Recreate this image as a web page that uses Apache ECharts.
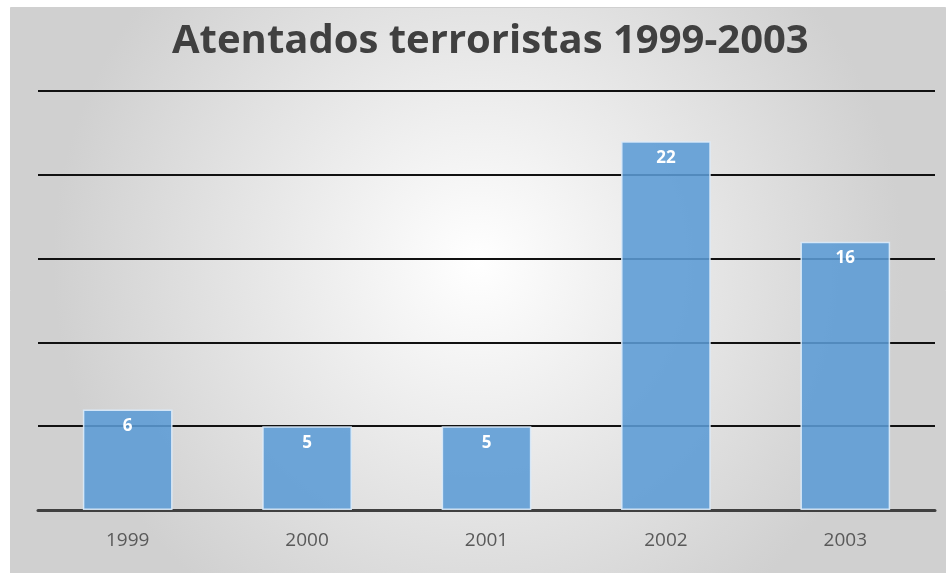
<!DOCTYPE html>
<html>
<head>
<meta charset="utf-8">
<script src="https://cdn.jsdelivr.net/npm/echarts@6/dist/echarts.min.js"></script>
<style>
  html, body { margin: 0; padding: 0; background: #fff; }
  #chart { width: 948px; height: 573px; }
</style>
</head>
<body>
<div id="chart"></div>
<script>
// 数据
const years = ['1999', '2000', '2001', '2002', '2003'];
const attacks = [6, 5, 5, 22, 16];

const chart = echarts.init(document.getElementById('chart'), null, { renderer: 'canvas' });

chart.setOption({
  animation: false,
  graphic: [
    {
      type: 'rect',
      z: -10,
      silent: true,
      shape: { x: 10.5, y: 7.5, width: 935, height: 566 },
      style: {
        fill: new echarts.graphic.RadialGradient(0.5, 0.45, 0.75, [
          { offset: 0, color: '#ffffff' },
          { offset: 1, color: '#d0d0d0' }
        ]),
        stroke: '#d0d0d0',
        lineWidth: 1
      }
    }
  ],
  title: {
    text: 'Atentados terroristas 1999-2003',
    left: 167,
    top: 17,
    textStyle: {
      fontFamily: 'Open Sans',
      fontWeight: 'bold',
      fontSize: 40,
      color: '#404040'
    }
  },
  grid: {
    left: 38,
    right: 13,
    top: 91,
    bottom: 63
  },
  xAxis: {
    type: 'category',
    data: years,
    axisTick: { show: false },
    axisLine: { show: true, lineStyle: { color: '#404040', width: 3 } },
    axisLabel: {
      color: '#595959',
      fontSize: 19,
      fontFamily: 'Open Sans',
      margin: 21
    }
  },
  yAxis: {
    type: 'value',
    min: 0,
    max: 25,
    interval: 5,
    axisLabel: { show: false },
    axisLine: { show: false },
    axisTick: { show: false },
    splitLine: { lineStyle: { color: '#111', width: 2 } }
  },
  series: [
    {
      type: 'bar',
      data: attacks,
      barWidth: '50%',
      itemStyle: {
        color: 'rgba(91, 155, 213, 0.88)',
        borderColor: 'rgba(220, 235, 250, 0.9)',
        borderWidth: 1.5
      },
      label: {
        show: true,
        position: 'insideTop',
        distance: 8,
        color: '#fff',
        fontWeight: 'bold',
        fontSize: 17,
        fontFamily: 'Open Sans'
      }
    }
  ]
});
</script>
</body>
</html>
